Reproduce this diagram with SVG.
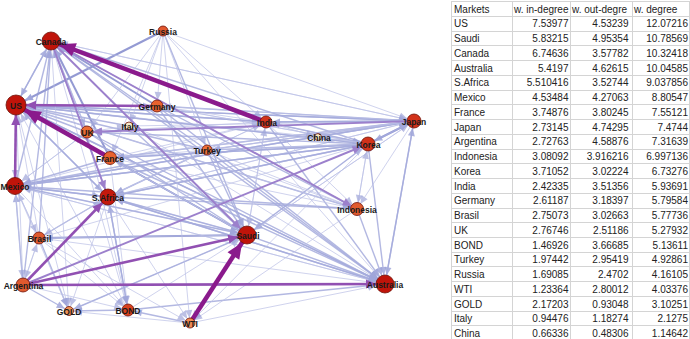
<svg xmlns="http://www.w3.org/2000/svg" width="690" height="339" viewBox="0 0 690 339">
<style>
line{fill:none}
.e1{stroke:#bcc1e7;stroke-width:1;opacity:.7}
.e2{stroke:#a6acdd;stroke-width:1.4;opacity:.85}
.e3{stroke:#949ad3;stroke-width:2}
.p0{stroke:#9c80cc;stroke-width:1.9}
.p1{stroke:#9150b2;stroke-width:2.6}
.p2{stroke:#8a1a8c;stroke-width:4.5}
.t10{marker-end:url(#L10)}.t9{marker-end:url(#L9)}.t8{marker-end:url(#L8)}.t7{marker-end:url(#L7)}
.t6{marker-end:url(#L6)}.t5{marker-end:url(#L5)}.t4{marker-end:url(#L4)}
.node circle{stroke:#6e1208;stroke-width:.8}
.node text{font-family:"Liberation Sans",Arial,sans-serif;font-weight:bold;font-size:8.5px;fill:#1a1a1a;text-anchor:middle}
.grid line{stroke:#d4d4d4;stroke-width:1}
.tb text{font-family:"Liberation Sans",Arial,sans-serif;font-size:10px;fill:#222}
.tb .n{text-anchor:end}
</style>
<defs>
<marker id="L10" markerUnits="userSpaceOnUse" markerWidth="8" markerHeight="7" refX="18" refY="3.5" orient="auto" overflow="visible"><path d="M0,0L8,3.5L0,7z" fill="#a0a6da"/></marker>
<marker id="L9" markerUnits="userSpaceOnUse" markerWidth="8" markerHeight="7" refX="17" refY="3.5" orient="auto" overflow="visible"><path d="M0,0L8,3.5L0,7z" fill="#a0a6da"/></marker>
<marker id="L8" markerUnits="userSpaceOnUse" markerWidth="8" markerHeight="7" refX="16" refY="3.5" orient="auto" overflow="visible"><path d="M0,0L8,3.5L0,7z" fill="#a0a6da"/></marker>
<marker id="L7" markerUnits="userSpaceOnUse" markerWidth="8" markerHeight="7" refX="15" refY="3.5" orient="auto" overflow="visible"><path d="M0,0L8,3.5L0,7z" fill="#a0a6da"/></marker>
<marker id="L6" markerUnits="userSpaceOnUse" markerWidth="8" markerHeight="7" refX="14" refY="3.5" orient="auto" overflow="visible"><path d="M0,0L8,3.5L0,7z" fill="#a0a6da"/></marker>
<marker id="L5" markerUnits="userSpaceOnUse" markerWidth="8" markerHeight="7" refX="13" refY="3.5" orient="auto" overflow="visible"><path d="M0,0L8,3.5L0,7z" fill="#a0a6da"/></marker>
<marker id="L4" markerUnits="userSpaceOnUse" markerWidth="8" markerHeight="7" refX="12" refY="3.5" orient="auto" overflow="visible"><path d="M0,0L8,3.5L0,7z" fill="#a0a6da"/></marker>
<marker id="P10" markerUnits="userSpaceOnUse" markerWidth="10" markerHeight="9" refX="20" refY="4.5" orient="auto" overflow="visible"><path d="M0,0L10,4.5L0,9z" fill="#9150b2"/></marker>
<marker id="P9" markerUnits="userSpaceOnUse" markerWidth="10" markerHeight="9" refX="19" refY="4.5" orient="auto" overflow="visible"><path d="M0,0L10,4.5L0,9z" fill="#9150b2"/></marker>
<marker id="P8" markerUnits="userSpaceOnUse" markerWidth="10" markerHeight="9" refX="18" refY="4.5" orient="auto" overflow="visible"><path d="M0,0L10,4.5L0,9z" fill="#9150b2"/></marker>
<marker id="Q9" markerUnits="userSpaceOnUse" markerWidth="9" markerHeight="8" refX="18" refY="4" orient="auto" overflow="visible"><path d="M0,0L9,4L0,8z" fill="#9c80cc"/></marker>
<marker id="Q8" markerUnits="userSpaceOnUse" markerWidth="9" markerHeight="8" refX="17" refY="4" orient="auto" overflow="visible"><path d="M0,0L9,4L0,8z" fill="#9c80cc"/></marker>
<marker id="Q7" markerUnits="userSpaceOnUse" markerWidth="9" markerHeight="8" refX="16" refY="4" orient="auto" overflow="visible"><path d="M0,0L9,4L0,8z" fill="#9c80cc"/></marker>
<marker id="Q6" markerUnits="userSpaceOnUse" markerWidth="9" markerHeight="8" refX="15" refY="4" orient="auto" overflow="visible"><path d="M0,0L9,4L0,8z" fill="#9c80cc"/></marker>
<marker id="T10" markerUnits="userSpaceOnUse" markerWidth="16" markerHeight="14" refX="26" refY="7" orient="auto" overflow="visible"><path d="M0,0L16,7L0,14z" fill="#8a1a8c"/></marker>
<marker id="T9" markerUnits="userSpaceOnUse" markerWidth="16" markerHeight="14" refX="25" refY="7" orient="auto" overflow="visible"><path d="M0,0L16,7L0,14z" fill="#8a1a8c"/></marker>
</defs>
<rect width="690" height="339" fill="#ffffff"/>
<g id="connectors">
<line class="e2 t9" x1="16" y1="105" x2="51" y2="41"/>
<line class="e2 t9" x1="15" y1="186" x2="51" y2="41"/>
<line class="e2 t9" x1="23" y1="285" x2="51" y2="41"/>
<line class="e2 t9" x1="39" y1="238" x2="51" y2="41"/>
<line class="e3 t9" x1="110" y1="158" x2="51" y2="41"/>
<line class="e2 t9" x1="87" y1="132" x2="51" y2="41"/>
<line class="e3 t9" x1="157" y1="106" x2="51" y2="41"/>
<line class="e2 t9" x1="207" y1="150" x2="51" y2="41"/>
<line class="e2 t9" x1="108" y1="197" x2="51" y2="41"/>
<line class="e1 t9" x1="247" y1="235" x2="51" y2="41"/>
<line class="e2 t9" x1="368" y1="144" x2="51" y2="41"/>
<line class="e1 t9" x1="357" y1="209" x2="51" y2="41"/>
<line class="e1 t9" x1="414" y1="121" x2="51" y2="41"/>
<line class="e1 t9" x1="128" y1="310" x2="51" y2="41"/>
<line class="e3 t10" x1="163" y1="31" x2="16" y2="105"/>
<line class="e2 t10" x1="87" y1="132" x2="16" y2="105"/>
<line class="e2 t10" x1="129" y1="126" x2="16" y2="105"/>
<line class="e2 t10" x1="266" y1="122" x2="16" y2="105"/>
<line class="e2 t10" x1="414" y1="121" x2="16" y2="105"/>
<line class="e2 t10" x1="368" y1="144" x2="16" y2="105"/>
<line class="e2 t10" x1="207" y1="150" x2="16" y2="105"/>
<line class="e2 t10" x1="108" y1="197" x2="16" y2="105"/>
<line class="e3 t10" x1="247" y1="235" x2="16" y2="105"/>
<line class="e2 t10" x1="385" y1="284" x2="16" y2="105"/>
<line class="e2 t10" x1="357" y1="209" x2="16" y2="105"/>
<line class="e1 t10" x1="39" y1="238" x2="16" y2="105"/>
<line class="e1 t10" x1="23" y1="285" x2="16" y2="105"/>
<line class="e2 t10" x1="51" y1="41" x2="16" y2="105"/>
<line class="e1 t10" x1="128" y1="310" x2="16" y2="105"/>
<line class="e1 t10" x1="318" y1="137" x2="16" y2="105"/>
<line class="e2 t8" x1="368" y1="144" x2="15" y2="186"/>
<line class="e2 t8" x1="414" y1="121" x2="15" y2="186"/>
<line class="e2 t8" x1="207" y1="150" x2="15" y2="186"/>
<line class="e2 t8" x1="110" y1="158" x2="15" y2="186"/>
<line class="e2 t8" x1="357" y1="209" x2="15" y2="186"/>
<line class="e2 t8" x1="23" y1="285" x2="15" y2="186"/>
<line class="e1 t8" x1="39" y1="238" x2="15" y2="186"/>
<line class="e1 t8" x1="87" y1="132" x2="15" y2="186"/>
<line class="e1 t8" x1="16" y1="105" x2="15" y2="186"/>
<line class="e2 t8" x1="108" y1="197" x2="15" y2="186"/>
<line class="e1 t8" x1="266" y1="122" x2="15" y2="186"/>
<line class="e1 t8" x1="247" y1="235" x2="15" y2="186"/>
<line class="e1 t8" x1="385" y1="284" x2="15" y2="186"/>
<line class="e2 t8" x1="39" y1="238" x2="108" y2="197"/>
<line class="e2 t8" x1="357" y1="209" x2="108" y2="197"/>
<line class="e2 t8" x1="368" y1="144" x2="108" y2="197"/>
<line class="e1 t8" x1="414" y1="121" x2="108" y2="197"/>
<line class="e2 t8" x1="207" y1="150" x2="108" y2="197"/>
<line class="e2 t8" x1="385" y1="284" x2="108" y2="197"/>
<line class="e2 t8" x1="128" y1="310" x2="108" y2="197"/>
<line class="e2 t8" x1="16" y1="105" x2="108" y2="197"/>
<line class="e2 t8" x1="15" y1="186" x2="108" y2="197"/>
<line class="e1 t8" x1="266" y1="122" x2="108" y2="197"/>
<line class="e1 t8" x1="247" y1="235" x2="108" y2="197"/>
<line class="e3 t9" x1="39" y1="238" x2="247" y2="235"/>
<line class="e2 t9" x1="129" y1="126" x2="247" y2="235"/>
<line class="e2 t9" x1="16" y1="105" x2="247" y2="235"/>
<line class="e2 t9" x1="87" y1="132" x2="247" y2="235"/>
<line class="e2 t9" x1="110" y1="158" x2="247" y2="235"/>
<line class="e2 t9" x1="15" y1="186" x2="247" y2="235"/>
<line class="e2 t9" x1="108" y1="197" x2="247" y2="235"/>
<line class="e2 t9" x1="157" y1="106" x2="247" y2="235"/>
<line class="e2 t9" x1="163" y1="31" x2="247" y2="235"/>
<line class="e2 t9" x1="207" y1="150" x2="247" y2="235"/>
<line class="e1 t9" x1="128" y1="310" x2="247" y2="235"/>
<line class="e1 t9" x1="414" y1="121" x2="247" y2="235"/>
<line class="e1 t9" x1="368" y1="144" x2="247" y2="235"/>
<line class="e1 t9" x1="266" y1="122" x2="247" y2="235"/>
<line class="e1 t9" x1="69" y1="311" x2="247" y2="235"/>
<line class="e2 t9" x1="414" y1="121" x2="385" y2="284"/>
<line class="e2 t9" x1="368" y1="144" x2="385" y2="284"/>
<line class="e2 t9" x1="357" y1="209" x2="385" y2="284"/>
<line class="e2 t9" x1="247" y1="235" x2="385" y2="284"/>
<line class="e2 t9" x1="16" y1="105" x2="385" y2="284"/>
<line class="e2 t9" x1="87" y1="132" x2="385" y2="284"/>
<line class="e2 t9" x1="110" y1="158" x2="385" y2="284"/>
<line class="e2 t9" x1="157" y1="106" x2="385" y2="284"/>
<line class="e1 t9" x1="129" y1="126" x2="385" y2="284"/>
<line class="e2 t9" x1="266" y1="122" x2="385" y2="284"/>
<line class="e2 t9" x1="207" y1="150" x2="385" y2="284"/>
<line class="e2 t9" x1="128" y1="310" x2="385" y2="284"/>
<line class="e1 t9" x1="190" y1="323" x2="385" y2="284"/>
<line class="e1 t9" x1="39" y1="238" x2="385" y2="284"/>
<line class="e2 t9" x1="108" y1="197" x2="385" y2="284"/>
<line class="e1 t9" x1="15" y1="186" x2="385" y2="284"/>
<line class="e1 t9" x1="163" y1="31" x2="385" y2="284"/>
<line class="e2 t9" x1="51" y1="41" x2="385" y2="284"/>
<line class="e2 t7" x1="16" y1="105" x2="414" y2="121"/>
<line class="e2 t7" x1="157" y1="106" x2="414" y2="121"/>
<line class="e2 t7" x1="266" y1="122" x2="414" y2="121"/>
<line class="e1 t7" x1="318" y1="137" x2="414" y2="121"/>
<line class="e3 t7" x1="368" y1="144" x2="414" y2="121"/>
<line class="e2 t7" x1="207" y1="150" x2="414" y2="121"/>
<line class="e2 t7" x1="110" y1="158" x2="414" y2="121"/>
<line class="e2 t7" x1="15" y1="186" x2="414" y2="121"/>
<line class="e1 t7" x1="108" y1="197" x2="414" y2="121"/>
<line class="e2 t7" x1="385" y1="284" x2="414" y2="121"/>
<line class="e1 t7" x1="163" y1="31" x2="414" y2="121"/>
<line class="e1 t7" x1="129" y1="126" x2="414" y2="121"/>
<line class="e1 t7" x1="247" y1="235" x2="414" y2="121"/>
<line class="e1 t7" x1="51" y1="41" x2="414" y2="121"/>
<line class="e2 t7" x1="110" y1="158" x2="368" y2="144"/>
<line class="e2 t7" x1="15" y1="186" x2="368" y2="144"/>
<line class="e2 t7" x1="108" y1="197" x2="368" y2="144"/>
<line class="e2 t7" x1="207" y1="150" x2="368" y2="144"/>
<line class="e2 t7" x1="247" y1="235" x2="368" y2="144"/>
<line class="e2 t7" x1="414" y1="121" x2="368" y2="144"/>
<line class="e2 t7" x1="16" y1="105" x2="368" y2="144"/>
<line class="e1 t7" x1="157" y1="106" x2="368" y2="144"/>
<line class="e1 t7" x1="266" y1="122" x2="368" y2="144"/>
<line class="e1 t7" x1="39" y1="238" x2="368" y2="144"/>
<line class="e1 t7" x1="357" y1="209" x2="368" y2="144"/>
<line class="e2 t6" x1="16" y1="105" x2="266" y2="122"/>
<line class="e1 t6" x1="157" y1="106" x2="266" y2="122"/>
<line class="e2 t6" x1="414" y1="121" x2="266" y2="122"/>
<line class="e2 t6" x1="368" y1="144" x2="266" y2="122"/>
<line class="e1 t6" x1="108" y1="197" x2="266" y2="122"/>
<line class="e1 t6" x1="247" y1="235" x2="266" y2="122"/>
<line class="e1 t6" x1="163" y1="31" x2="266" y2="122"/>
<line class="e1 t6" x1="110" y1="158" x2="266" y2="122"/>
<line class="e2 t6" x1="157" y1="106" x2="357" y2="209"/>
<line class="e1 t6" x1="266" y1="122" x2="357" y2="209"/>
<line class="e1 t6" x1="16" y1="105" x2="357" y2="209"/>
<line class="e1 t6" x1="129" y1="126" x2="357" y2="209"/>
<line class="e1 t6" x1="207" y1="150" x2="357" y2="209"/>
<line class="e1 t6" x1="110" y1="158" x2="357" y2="209"/>
<line class="e1 t6" x1="414" y1="121" x2="357" y2="209"/>
<line class="e1 t6" x1="368" y1="144" x2="357" y2="209"/>
<line class="e2 t6" x1="368" y1="144" x2="87" y2="132"/>
<line class="e1 t6" x1="266" y1="122" x2="87" y2="132"/>
<line class="e1 t6" x1="51" y1="41" x2="87" y2="132"/>
<line class="e1 t6" x1="163" y1="31" x2="87" y2="132"/>
<line class="e1 t6" x1="15" y1="186" x2="87" y2="132"/>
<line class="e2 t6" x1="368" y1="144" x2="110" y2="158"/>
<line class="e1 t6" x1="414" y1="121" x2="110" y2="158"/>
<line class="e1 t6" x1="163" y1="31" x2="110" y2="158"/>
<line class="e1 t6" x1="207" y1="150" x2="110" y2="158"/>
<line class="e1 t6" x1="247" y1="235" x2="110" y2="158"/>
<line class="e1 t6" x1="163" y1="31" x2="157" y2="106"/>
<line class="e1 t6" x1="414" y1="121" x2="157" y2="106"/>
<line class="e1 t6" x1="368" y1="144" x2="157" y2="106"/>
<line class="e1 t6" x1="16" y1="105" x2="157" y2="106"/>
<line class="e1 t4" x1="163" y1="31" x2="129" y2="126"/>
<line class="e1 t4" x1="87" y1="132" x2="129" y2="126"/>
<line class="e1 t5" x1="163" y1="31" x2="207" y2="150"/>
<line class="e1 t5" x1="414" y1="121" x2="207" y2="150"/>
<line class="e1 t5" x1="368" y1="144" x2="207" y2="150"/>
<line class="e1 t4" x1="368" y1="144" x2="318" y2="137"/>
<line class="e1 t4" x1="266" y1="122" x2="318" y2="137"/>
<line class="e1 t6" x1="23" y1="285" x2="39" y2="238"/>
<line class="e1 t6" x1="15" y1="186" x2="39" y2="238"/>
<line class="e1 t6" x1="247" y1="235" x2="39" y2="238"/>
<line class="e1 t6" x1="108" y1="197" x2="39" y2="238"/>
<line class="e1 t7" x1="39" y1="238" x2="23" y2="285"/>
<line class="e1 t7" x1="15" y1="186" x2="23" y2="285"/>
<line class="e2 t5" x1="23" y1="285" x2="69" y2="311"/>
<line class="e2 t5" x1="39" y1="238" x2="69" y2="311"/>
<line class="e2 t5" x1="247" y1="235" x2="69" y2="311"/>
<line class="e2 t5" x1="128" y1="310" x2="69" y2="311"/>
<line class="e1 t5" x1="190" y1="323" x2="69" y2="311"/>
<line class="e1 t5" x1="15" y1="186" x2="69" y2="311"/>
<line class="e1 t5" x1="108" y1="197" x2="69" y2="311"/>
<line class="e1 t5" x1="16" y1="105" x2="69" y2="311"/>
<line class="e1 t5" x1="51" y1="41" x2="69" y2="311"/>
<line class="e2 t6" x1="190" y1="323" x2="128" y2="310"/>
<line class="e2 t6" x1="108" y1="197" x2="128" y2="310"/>
<line class="e1 t6" x1="87" y1="132" x2="128" y2="310"/>
<line class="e1 t6" x1="110" y1="158" x2="128" y2="310"/>
<line class="e1 t6" x1="39" y1="238" x2="128" y2="310"/>
<line class="e1 t6" x1="23" y1="285" x2="128" y2="310"/>
<line class="e1 t6" x1="15" y1="186" x2="128" y2="310"/>
<line class="e1 t5" x1="163" y1="31" x2="190" y2="323"/>
<line class="e1 t5" x1="247" y1="235" x2="190" y2="323"/>
<line class="e1 t5" x1="357" y1="209" x2="190" y2="323"/>
<line class="e1 t5" x1="108" y1="197" x2="190" y2="323"/>
<line class="e1 t5" x1="39" y1="238" x2="190" y2="323"/>
<line class="e1 t5" x1="368" y1="144" x2="190" y2="323"/>
<line class="p0" x1="23" y1="285" x2="368" y2="144" marker-end="url(#Q7)"/>
<line class="p0" x1="51" y1="41" x2="247" y2="235" marker-end="url(#Q9)"/>
<line class="p0" x1="51" y1="41" x2="357" y2="209" marker-end="url(#Q6)"/>
<line class="p0" x1="51" y1="41" x2="108" y2="197" marker-end="url(#Q8)"/>
<line class="p0" x1="414" y1="121" x2="87" y2="132" marker-end="url(#Q6)"/>
<line class="p1" x1="157" y1="106" x2="16" y2="105" marker-end="url(#P10)"/>
<line class="p1" x1="15" y1="186" x2="16" y2="105" marker-end="url(#P10)"/>
<line class="p1" x1="23" y1="285" x2="385" y2="284" marker-end="url(#P9)"/>
<line class="p1" x1="23" y1="285" x2="108" y2="197" marker-end="url(#P8)"/>
<line class="p1" x1="23" y1="285" x2="247" y2="235" marker-end="url(#P9)"/>
<line class="p2" x1="266" y1="122" x2="51" y2="41" marker-end="url(#T9)"/>
<line class="p2" x1="110" y1="158" x2="16" y2="105" marker-end="url(#T10)"/>
<line class="p2" x1="190" y1="323" x2="247" y2="235" marker-end="url(#T9)"/>
</g>
<g id="nodes">
<g id="n-Russia" class="node"><circle cx="163" cy="31" r="5" fill="#e2582e"/><text x="163" y="35">Russia</text></g>
<g id="n-Canada" class="node"><circle cx="51" cy="41" r="9" fill="#c0140a"/><text x="51" y="45">Canada</text></g>
<g id="n-US" class="node"><circle cx="16" cy="105" r="10" fill="#c0140a"/><text x="16" y="109">US</text></g>
<g id="n-Germany" class="node"><circle cx="157" cy="106" r="6" fill="#e8622f"/><text x="157" y="110">Germany</text></g>
<g id="n-Italy" class="node"><circle cx="129" cy="126" r="4" fill="#f6e7c6" stroke="#b89a70"/><text x="130" y="130">Italy</text></g>
<g id="n-UK" class="node"><circle cx="87" cy="132" r="6" fill="#ec6d34"/><text x="87.5" y="136">UK</text></g>
<g id="n-India" class="node"><circle cx="266" cy="122" r="6" fill="#d2321a"/><text x="267" y="126">India</text></g>
<g id="n-China" class="node"><circle cx="318" cy="137" r="3.5" fill="#f8e6c4" stroke="#b89a70"/><text x="319" y="141">China</text></g>
<g id="n-Korea" class="node"><circle cx="368" cy="144" r="7" fill="#d2321a"/><text x="368.5" y="148">Korea</text></g>
<g id="n-Japan" class="node"><circle cx="414" cy="121" r="7" fill="#d2321a"/><text x="414" y="125">Japan</text></g>
<g id="n-Turkey" class="node"><circle cx="207" cy="150" r="5" fill="#ee7038"/><text x="207" y="154">Turkey</text></g>
<g id="n-France" class="node"><circle cx="110" cy="158" r="6.5" fill="#e8622f"/><text x="110" y="162">France</text></g>
<g id="n-Mexico" class="node"><circle cx="15" cy="186" r="8.5" fill="#c0140a"/><text x="15" y="190">Mexico</text></g>
<g id="n-SAfrica" class="node"><circle cx="108" cy="197" r="8" fill="#c4180c"/><text x="108" y="201">S.Africa</text></g>
<g id="n-Indonesia" class="node"><circle cx="357" cy="209" r="6.5" fill="#e05a2e"/><text x="357" y="213">Indonesia</text></g>
<g id="n-Brasil" class="node"><circle cx="39" cy="238" r="6" fill="#e05a2e"/><text x="39.5" y="242">Brasil</text></g>
<g id="n-Saudi" class="node"><circle cx="247" cy="235" r="9" fill="#c0140a"/><text x="248" y="239">Saudi</text></g>
<g id="n-Argentina" class="node"><circle cx="23" cy="285" r="7" fill="#e05a2e"/><text x="23.5" y="289">Argentina</text></g>
<g id="n-Australia" class="node"><circle cx="385" cy="284" r="9" fill="#c0140a"/><text x="385" y="288">Australia</text></g>
<g id="n-GOLD" class="node"><circle cx="69" cy="311" r="4.5" fill="#f09055"/><text x="69" y="315">GOLD</text></g>
<g id="n-BOND" class="node"><circle cx="128" cy="310" r="6" fill="#d8401e"/><text x="128" y="314">BOND</text></g>
<g id="n-WTI" class="node"><circle cx="190" cy="323" r="5" fill="#f08a52"/><text x="190" y="327">WTI</text></g>
</g>
<g id="table" class="tb">
<g class="grid" shape-rendering="crispEdges">
<line x1="451" y1="1.5" x2="451" y2="339"/>
<line x1="512.5" y1="1.5" x2="512.5" y2="339"/>
<line x1="570.5" y1="1.5" x2="570.5" y2="339"/>
<line x1="632.5" y1="1.5" x2="632.5" y2="339"/>
<line x1="689.5" y1="1.5" x2="689.5" y2="339"/>
<line x1="451" y1="1.6" x2="690" y2="1.6"/>
<line x1="451" y1="16.3" x2="690" y2="16.3"/>
<line x1="451" y1="31.1" x2="690" y2="31.1"/>
<line x1="451" y1="45.8" x2="690" y2="45.8"/>
<line x1="451" y1="60.6" x2="690" y2="60.6"/>
<line x1="451" y1="75.3" x2="690" y2="75.3"/>
<line x1="451" y1="90" x2="690" y2="90"/>
<line x1="451" y1="104.8" x2="690" y2="104.8"/>
<line x1="451" y1="119.5" x2="690" y2="119.5"/>
<line x1="451" y1="134.3" x2="690" y2="134.3"/>
<line x1="451" y1="149" x2="690" y2="149"/>
<line x1="451" y1="163.7" x2="690" y2="163.7"/>
<line x1="451" y1="178.5" x2="690" y2="178.5"/>
<line x1="451" y1="193.2" x2="690" y2="193.2"/>
<line x1="451" y1="208" x2="690" y2="208"/>
<line x1="451" y1="222.7" x2="690" y2="222.7"/>
<line x1="451" y1="237.4" x2="690" y2="237.4"/>
<line x1="451" y1="252.2" x2="690" y2="252.2"/>
<line x1="451" y1="266.9" x2="690" y2="266.9"/>
<line x1="451" y1="281.7" x2="690" y2="281.7"/>
<line x1="451" y1="296.4" x2="690" y2="296.4"/>
<line x1="451" y1="311.1" x2="690" y2="311.1"/>
<line x1="451" y1="325.9" x2="690" y2="325.9"/>
</g>
<text x="454" y="12.7">Markets</text><text x="514" y="12.7">w. in-degree</text><text x="572" y="12.7">w. out-degre</text><text x="634" y="12.7">w. degree</text>
<text x="454" y="27.4">US</text><text class="n" x="568.5" y="27.4">7.53977</text><text class="n" x="628.5" y="27.4">4.53239</text><text class="n" x="688" y="27.4">12.07216</text>
<text x="454" y="42.2">Saudi</text><text class="n" x="568.5" y="42.2">5.83215</text><text class="n" x="628.5" y="42.2">4.95354</text><text class="n" x="688" y="42.2">10.78569</text>
<text x="454" y="56.9">Canada</text><text class="n" x="568.5" y="56.9">6.74636</text><text class="n" x="628.5" y="56.9">3.57782</text><text class="n" x="688" y="56.9">10.32418</text>
<text x="454" y="71.7">Australia</text><text class="n" x="568.5" y="71.7">5.4197</text><text class="n" x="628.5" y="71.7">4.62615</text><text class="n" x="688" y="71.7">10.04585</text>
<text x="454" y="86.4">S.Africa</text><text class="n" x="568.5" y="86.4">5.510416</text><text class="n" x="628.5" y="86.4">3.52744</text><text class="n" x="688" y="86.4">9.037856</text>
<text x="454" y="101.1">Mexico</text><text class="n" x="568.5" y="101.1">4.53484</text><text class="n" x="628.5" y="101.1">4.27063</text><text class="n" x="688" y="101.1">8.80547</text>
<text x="454" y="115.9">France</text><text class="n" x="568.5" y="115.9">3.74876</text><text class="n" x="628.5" y="115.9">3.80245</text><text class="n" x="688" y="115.9">7.55121</text>
<text x="454" y="130.6">Japan</text><text class="n" x="568.5" y="130.6">2.73145</text><text class="n" x="628.5" y="130.6">4.74295</text><text class="n" x="688" y="130.6">7.4744</text>
<text x="454" y="145.4">Argentina</text><text class="n" x="568.5" y="145.4">2.72763</text><text class="n" x="628.5" y="145.4">4.58876</text><text class="n" x="688" y="145.4">7.31639</text>
<text x="454" y="160.1">Indonesia</text><text class="n" x="568.5" y="160.1">3.08092</text><text class="n" x="628.5" y="160.1">3.916216</text><text class="n" x="688" y="160.1">6.997136</text>
<text x="454" y="174.8">Korea</text><text class="n" x="568.5" y="174.8">3.71052</text><text class="n" x="628.5" y="174.8">3.02224</text><text class="n" x="688" y="174.8">6.73276</text>
<text x="454" y="189.6">India</text><text class="n" x="568.5" y="189.6">2.42335</text><text class="n" x="628.5" y="189.6">3.51356</text><text class="n" x="688" y="189.6">5.93691</text>
<text x="454" y="204.3">Germany</text><text class="n" x="568.5" y="204.3">2.61187</text><text class="n" x="628.5" y="204.3">3.18397</text><text class="n" x="688" y="204.3">5.79584</text>
<text x="454" y="219.1">Brasil</text><text class="n" x="568.5" y="219.1">2.75073</text><text class="n" x="628.5" y="219.1">3.02663</text><text class="n" x="688" y="219.1">5.77736</text>
<text x="454" y="233.8">UK</text><text class="n" x="568.5" y="233.8">2.76746</text><text class="n" x="628.5" y="233.8">2.51186</text><text class="n" x="688" y="233.8">5.27932</text>
<text x="454" y="248.5">BOND</text><text class="n" x="568.5" y="248.5">1.46926</text><text class="n" x="628.5" y="248.5">3.66685</text><text class="n" x="688" y="248.5">5.13611</text>
<text x="454" y="263.3">Turkey</text><text class="n" x="568.5" y="263.3">1.97442</text><text class="n" x="628.5" y="263.3">2.95419</text><text class="n" x="688" y="263.3">4.92861</text>
<text x="454" y="278">Russia</text><text class="n" x="568.5" y="278">1.69085</text><text class="n" x="628.5" y="278">2.4702</text><text class="n" x="688" y="278">4.16105</text>
<text x="454" y="292.8">WTI</text><text class="n" x="568.5" y="292.8">1.23364</text><text class="n" x="628.5" y="292.8">2.80012</text><text class="n" x="688" y="292.8">4.03376</text>
<text x="454" y="307.5">GOLD</text><text class="n" x="568.5" y="307.5">2.17203</text><text class="n" x="628.5" y="307.5">0.93048</text><text class="n" x="688" y="307.5">3.10251</text>
<text x="454" y="322.2">Italy</text><text class="n" x="568.5" y="322.2">0.94476</text><text class="n" x="628.5" y="322.2">1.18274</text><text class="n" x="688" y="322.2">2.1275</text>
<text x="454" y="337">China</text><text class="n" x="568.5" y="337">0.66336</text><text class="n" x="628.5" y="337">0.48306</text><text class="n" x="688" y="337">1.14642</text>
</g>
</svg>
